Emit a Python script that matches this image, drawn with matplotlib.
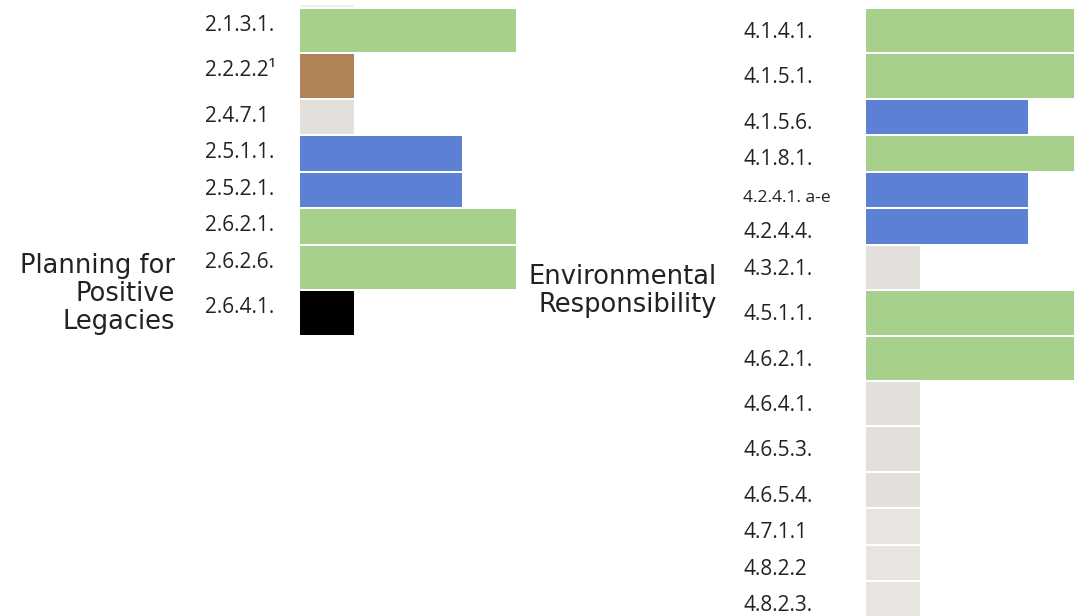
import matplotlib.pyplot as plt
from matplotlib import transforms

plt.rcParams['font.family'] = ['Open Sans', 'DejaVu Sans']

GREEN = '#a8d08d'
BLUE = '#5b80d4'
BROWN = '#b08257'
GRAY = '#e3dfdb'
LIGHT = '#e8e5e1'
PALE = '#efefef'
BLACK = '#000000'

# left group: Planning for Positive Legacies (first row is cut off at the top)
left_labels = ['', '2.1.3.1.', '2.2.2.2\u00b9', '2.4.7.1', '2.5.1.1.', '2.5.2.1.',
               '2.6.2.1.', '2.6.2.6.', '2.6.4.1.']
left_values = [1, 4, 1, 1, 3, 3, 4, 4, 1]
left_colors = [PALE, GREEN, BROWN, GRAY, BLUE, BLUE, GREEN, GREEN, BLACK]
left_rows = ['cut', 'tall', 'tall', 'short', 'short', 'short', 'short', 'tall', 'tall']

# right group: Environmental Responsibility
right_labels = ['4.1.4.1.', '4.1.5.1.', '4.1.5.6.', '4.1.8.1.', '4.2.4.1. a-e', '4.2.4.4.',
                '4.3.2.1.', '4.5.1.1.', '4.6.2.1.', '4.6.4.1.', '4.6.5.3.', '4.6.5.4.',
                '4.7.1.1', '4.8.2.2', '4.8.2.3.']
right_values = [4, 4, 3, 4, 3, 3, 1, 4, 4, 1, 1, 1, 1, 1, 1]
right_colors = [GREEN, GREEN, BLUE, GREEN, BLUE, BLUE, GRAY, GREEN, GREEN,
                GRAY, GRAY, GRAY, LIGHT, LIGHT, LIGHT]
right_rows = ['tall', 'tall', 'short', 'short', 'short', 'short', 'tall', 'tall', 'tall',
              'tall', 'tall', 'short', 'short', 'short', 'short']

W, H = 1074, 616
PITCH = {'tall': 45.4, 'short': 36.5, 'cut': 3.6}
GAP = 2.0
UNIT = 54.0  # pixels per value unit
TXT = '#222222'

fig = plt.figure(figsize=(W / 100, H / 100), dpi=100)


def panel(x0, x1, labels, values, colors, rows, label_x, base_off, small=()):
    ax = fig.add_axes([x0 / W, 0, (x1 - x0) / W, 1])
    ax.set_xlim(0, (x1 - x0) / UNIT)
    ax.set_ylim(H, 0)
    ax.axis('off')
    tr = transforms.blended_transform_factory(fig.transFigure, ax.transData)
    top = 9 - sum(PITCH[r] for r in rows if r == 'cut')
    for lab, v, c, r in zip(labels, values, colors, rows):
        pitch = PITCH[r]
        ax.barh(top, v, height=pitch - GAP, align='edge', color=c, linewidth=0)
        if lab:
            ax.text(label_x / W, top + base_off, lab, transform=tr,
                    fontsize=12.5 if lab in small else 15,
                    va='baseline', ha='left', color=TXT)
        top += pitch
    return ax


panel(300, 516, left_labels, left_values, left_colors, left_rows, 205, 22)
panel(866, 1074, right_labels, right_values, right_colors, right_rows, 743, 29,
      small=('4.2.4.1. a-e',))

fig.text(175 / W, 1 - 294 / H, 'Planning for\nPositive\nLegacies', ha='right', va='center',
         fontsize=18.5, linespacing=1.1, color=TXT, family='DejaVu Sans')
fig.text(717 / W, 1 - 291 / H, 'Environmental\nResponsibility', ha='right', va='center',
         fontsize=18.5, linespacing=1.1, color=TXT, family='DejaVu Sans')

fig.savefig('out.png', dpi=100)
